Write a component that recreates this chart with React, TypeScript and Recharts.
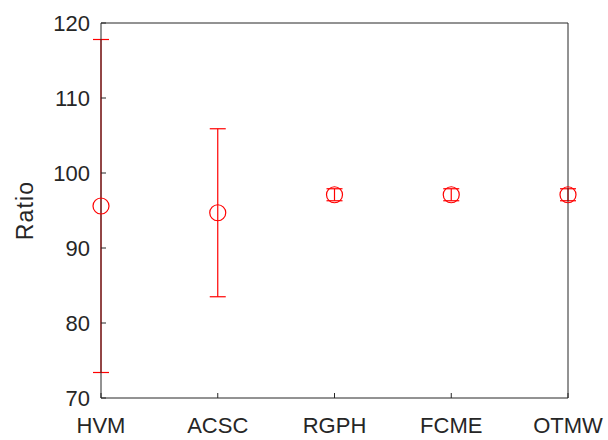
import { ScatterChart, Scatter, XAxis, YAxis, ErrorBar } from 'recharts';

const categories = ['HVM', 'ACSC', 'RGPH', 'FCME', 'OTMW'];
const ratioMean = [95.6, 94.7, 97.1, 97.1, 97.1];
const ratioErr = [22.2, 11.2, 0.8, 0.8, 0.8];
const yTicks = [70, 80, 90, 100, 110, 120];

const AXIS = '#262626';
const RED = '#ff0000';
const FONT = 'Liberation Sans, Arial, sans-serif';

const data = categories.map((c, i) => ({ x: i + 1, y: ratioMean[i], err: ratioErr[i], name: c }));

const LeftTick = ({ x, y, payload }: any) => (
  <g>
    <line x1={x} y1={y} x2={x + 5} y2={y} stroke={AXIS} />
    <text x={x - 11} y={y} dy="0.36em" textAnchor="end" fontSize={22} fontFamily={FONT} fill={AXIS}>
      {payload.value}
    </text>
  </g>
);

const RightTick = ({ x, y }: any) => <line x1={x} y1={y} x2={x - 5} y2={y} stroke={AXIS} />;

const BottomTick = ({ x, y, payload }: any) => (
  <g>
    <line x1={x} y1={y} x2={x} y2={y - 5} stroke={AXIS} />
    <text x={x} y={y + 35} textAnchor="middle" fontSize={22} fontFamily={FONT} fill={AXIS}>
      {categories[payload.value - 1]}
    </text>
  </g>
);

const TopTick = ({ x, y }: any) => <line x1={x} y1={y} x2={x} y2={y + 5} stroke={AXIS} />;

const Marker = ({ cx, cy }: any) => <circle cx={cx} cy={cy} r={8} fill="none" stroke={RED} strokeWidth={1.2} />;

const RatioLabel = ({ viewBox }: any) => {
  const cx = viewBox.x + 33;
  const cy = viewBox.y + viewBox.height / 2;
  return (
    <text
      x={cx}
      y={cy}
      transform={`rotate(-90, ${cx}, ${cy})`}
      textAnchor="middle"
      fontSize={23}
      letterSpacing={1.2}
      fontFamily={FONT}
      fill={AXIS}
    >
      Ratio
    </text>
  );
};

export default function App() {
  return (
    <div style={{ position: 'absolute', left: 0, top: 0, width: 608, height: 440, background: '#fff' }}>
      <ScatterChart width={608} height={440} margin={{ top: 0, right: 0, bottom: 0, left: 0 }}>
        <XAxis
          xAxisId="b"
          type="number"
          dataKey="x"
          domain={[1, 5]}
          ticks={[1, 2, 3, 4, 5]}
          height={42}
          tickSize={0}
          tickMargin={0}
          tickLine={false}
          tick={<BottomTick />}
          stroke={AXIS}
        />
        <XAxis
          xAxisId="t"
          orientation="top"
          type="number"
          dataKey="x"
          domain={[1, 5]}
          ticks={[1, 2, 3, 4, 5]}
          height={23}
          tickSize={0}
          tickMargin={0}
          tickLine={false}
          tick={<TopTick />}
          stroke={AXIS}
        />
        <YAxis
          yAxisId="l"
          type="number"
          domain={[70, 120]}
          ticks={yTicks}
          width={101}
          tickSize={0}
          tickMargin={0}
          tickLine={false}
          tick={<LeftTick />}
          stroke={AXIS}
          label={<RatioLabel />}
        />
        <YAxis
          yAxisId="r"
          orientation="right"
          type="number"
          domain={[70, 120]}
          ticks={yTicks}
          width={40}
          tickSize={0}
          tickMargin={0}
          tickLine={false}
          tick={<RightTick />}
          stroke={AXIS}
        />
        <Scatter
          data={data}
          xAxisId="b"
          yAxisId="l"
          dataKey="y"
          shape={<Marker />}
          isAnimationActive={false}
        >
          <ErrorBar dataKey="err" direction="y" width={8} stroke={RED} strokeWidth={1.2} isAnimationActive={false} />
        </Scatter>
      </ScatterChart>
    </div>
  );
}
